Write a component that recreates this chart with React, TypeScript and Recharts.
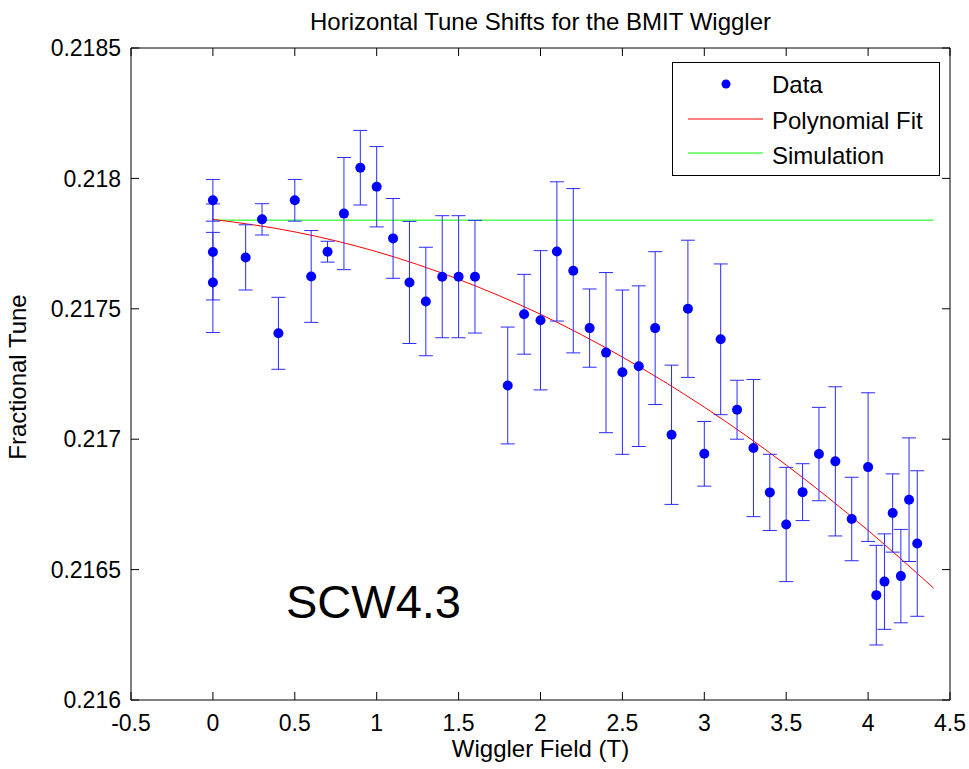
import {
  ComposedChart,
  Line,
  Scatter,
  ErrorBar,
  XAxis,
  YAxis,
  Legend,
} from 'recharts';

const fieldT = [
  0, 0, 0, 0.2, 0.3, 0.4, 0.5, 0.6, 0.7, 0.8, 0.9, 1.0, 1.1, 1.2, 1.3, 1.4, 1.5, 1.6,
  1.8, 1.9, 2.0, 2.1, 2.2, 2.3, 2.4, 2.5, 2.6, 2.7, 2.8, 2.9, 3.0, 3.1, 3.2, 3.3, 3.4,
  3.5, 3.6, 3.7, 3.8, 3.9, 4.0, 4.05, 4.1, 4.15, 4.2, 4.25, 4.3,
];
const tune = [
  0.217916, 0.217718, 0.217601, 0.217697, 0.217843, 0.217406, 0.217916, 0.217624,
  0.217719, 0.217865, 0.218041, 0.217968, 0.21777, 0.217601, 0.217528, 0.217623,
  0.217623, 0.217623, 0.217206, 0.217479, 0.217456, 0.21772, 0.217646, 0.217426,
  0.217332, 0.217257, 0.21728, 0.217426, 0.217017, 0.2175, 0.216944, 0.217383,
  0.217113, 0.216966, 0.216796, 0.216673, 0.216797, 0.216943, 0.216915, 0.216694,
  0.216893, 0.216402, 0.216454, 0.216717, 0.216475, 0.216768, 0.2166,
];
const tuneErr = [
  0.00008, 0.000184, 0.000192, 0.000125, 0.00006, 0.000138, 0.00008, 0.000176,
  0.00004, 0.000215, 0.000143, 0.000154, 0.000153, 0.000234, 0.000208, 0.000234,
  0.000234, 0.000216, 0.000224, 0.000153, 0.000267, 0.000267, 0.000315, 0.00015,
  0.000307, 0.000315, 0.000308, 0.000293, 0.000267, 0.000263, 0.000124, 0.000289,
  0.000113, 0.000263, 0.000146, 0.000219, 0.000109, 0.000179, 0.000286, 0.00016,
  0.000285, 0.000191, 0.000183, 0.00015, 0.000179, 0.000237, 0.000279,
];

const fitField = [0, 0.5, 1, 1.5, 2, 2.5, 3, 3.5, 4, 4.4];
const fitTune = [
  0.217843, 0.217795, 0.217719, 0.217613, 0.217479, 0.217315, 0.217123, 0.216901,
  0.21665, 0.216429,
];

const simField = [0, 4.4];
const simTune = [0.21784, 0.21784];

const xTicks = [-0.5, 0, 0.5, 1, 1.5, 2, 2.5, 3, 3.5, 4, 4.5];
const yTicks = [0.216, 0.2165, 0.217, 0.2175, 0.218, 0.2185];

const points = fieldT.map((x, i) => ({ x, y: tune[i], err: tuneErr[i] }));
const fitData = fitField.map((x, i) => ({ x, y: fitTune[i] }));
const simData = simField.map((x, i) => ({ x, y: simTune[i] }));

const W = 969;
const H = 769;
const MARGIN = { top: 48, right: 19, bottom: 0, left: 0 };
const X_AXIS_H = 69;
const Y_AXIS_W = 131;
const PLOT_TOP = MARGIN.top;
const PLOT_BOTTOM = H - MARGIN.bottom - X_AXIS_H;
const PLOT_LEFT = MARGIN.left + Y_AXIS_W;
const PLOT_RIGHT = W - MARGIN.right;
const TICK_LEN = 8;

const FONT = 24;
const TICK_FONT = 23;
const X_DOMAIN: [number, number] = [-0.5, 4.5];
const Y_DOMAIN: [number, number] = [0.216, 0.2185];
const black = { stroke: '#000', strokeWidth: 1 };
const noLabel = () => <g />;

// MATLAB-style ticks: pointing inward on both opposite sides of the box
const XTick = (props: { x?: number; y?: number; payload?: { value: number } }) => {
  const { x = 0, y = 0, payload } = props;
  return (
    <g>
      <line x1={x} x2={x} y1={PLOT_BOTTOM} y2={PLOT_BOTTOM - TICK_LEN} stroke="#000" />
      <line x1={x} x2={x} y1={PLOT_TOP} y2={PLOT_TOP + TICK_LEN} stroke="#000" />
      <text x={x} y={y} dy="0.71em" textAnchor="middle" fontSize={TICK_FONT} fill="#000">
        {payload?.value}
      </text>
    </g>
  );
};

const YTick = (props: { x?: number; y?: number; payload?: { value: number } }) => {
  const { x = 0, y = 0, payload } = props;
  return (
    <g>
      <line x1={PLOT_LEFT} x2={PLOT_LEFT + TICK_LEN} y1={y} y2={y} stroke="#000" />
      <line x1={PLOT_RIGHT} x2={PLOT_RIGHT - TICK_LEN} y1={y} y2={y} stroke="#000" />
      <text x={x} y={y} dy="0.355em" textAnchor="end" fontSize={TICK_FONT} fill="#000">
        {payload?.value}
      </text>
    </g>
  );
};

const BlueDot = (props: { cx?: number; cy?: number }) => {
  const { cx, cy } = props;
  if (cx == null || cy == null) return null;
  return <circle cx={cx} cy={cy} r={5} fill="#0000ff" />;
};

const LegendBox = () => (
  <div
    style={{
      width: 268,
      height: 114,
      boxSizing: 'border-box',
      border: '1px solid #000',
      background: '#fff',
    }}
  >
    <svg width={266} height={112}>
      <circle cx={53} cy={21} r={4.5} fill="#0000ff" />
      <text x={99} y={30} fontSize={FONT} fill="#000">Data</text>
      <line x1={15} x2={90} y1={56} y2={56} stroke="#ff0000" strokeWidth={1} />
      <text x={99} y={66} fontSize={FONT} fill="#000">Polynomial Fit</text>
      <line x1={15} x2={90} y1={90} y2={90} stroke="#00ff00" strokeWidth={1} />
      <text x={99} y={101} fontSize={FONT} fill="#000">Simulation</text>
    </svg>
  </div>
);

export default function App() {
  return (
    <div
      style={{
        position: 'absolute',
        left: 0,
        top: 0,
        width: W,
        height: H,
        background: '#fff',
        fontFamily: '"Liberation Sans", Arial, sans-serif',
      }}
    >
      <ComposedChart width={W} height={H} margin={MARGIN}>
        <XAxis
          dataKey="x"
          type="number"
          domain={X_DOMAIN}
          ticks={xTicks}
          allowDataOverflow
          height={X_AXIS_H}
          tickSize={0}
          tickMargin={15}
          axisLine={black}
          tickLine={false}
          tick={<XTick />}
          label={{ value: 'Wiggler Field (T)', position: 'insideBottom', offset: 12, fill: '#000', fontSize: FONT }}
        />
        <YAxis
          dataKey="y"
          type="number"
          domain={Y_DOMAIN}
          ticks={yTicks}
          allowDataOverflow
          width={Y_AXIS_W}
          tickSize={0}
          tickMargin={10}
          axisLine={black}
          tickLine={false}
          tick={<YTick />}
          label={{
            content: () => (
              <text
                x={26}
                y={377}
                transform="rotate(-90 26 377)"
                textAnchor="middle"
                fontSize={FONT}
                fill="#000"
              >
                Fractional Tune
              </text>
            ),
          }}
        />
        {/* top and right edges of the box */}
        <XAxis
          xAxisId="top"
          orientation="top"
          mirror
          type="number"
          domain={X_DOMAIN}
          ticks={xTicks}
          allowDataOverflow
          height={8}
          axisLine={black}
          tickLine={false}
          tick={noLabel}
          label={{
            value: 'Horizontal Tune Shifts for the BMIT Wiggler',
            position: 'top',
            offset: 18,
            fill: '#000',
            fontSize: FONT,
          }}
        />
        <YAxis
          yAxisId="right"
          orientation="right"
          mirror
          type="number"
          domain={Y_DOMAIN}
          ticks={yTicks}
          allowDataOverflow
          width={8}
          axisLine={black}
          tickLine={false}
          tick={noLabel}
        />
        <Legend
          layout="vertical"
          align="center"
          verticalAlign="middle"
          content={<LegendBox />}
          wrapperStyle={{ left: 672, top: 62, width: 268, height: 114 }}
        />
        <Line
          data={simData}
          dataKey="y"
          stroke="#00ff00"
          strokeWidth={1}
          dot={false}
          activeDot={false}
          isAnimationActive={false}
        />
        <Line
          data={fitData}
          dataKey="y"
          type="monotone"
          stroke="#ff0000"
          strokeWidth={1}
          dot={false}
          activeDot={false}
          isAnimationActive={false}
        />
        <Scatter data={points} dataKey="y" shape={<BlueDot />} isAnimationActive={false}>
          <ErrorBar dataKey="err" direction="y" width={7} stroke="#2a2aff" strokeWidth={1} />
        </Scatter>
      </ComposedChart>
      <div
        style={{
          position: 'absolute',
          left: 286,
          top: 579,
          fontSize: 47,
          lineHeight: '46px',
          color: '#000',
          whiteSpace: 'nowrap',
        }}
      >
        SCW4.3
      </div>
    </div>
  );
}
